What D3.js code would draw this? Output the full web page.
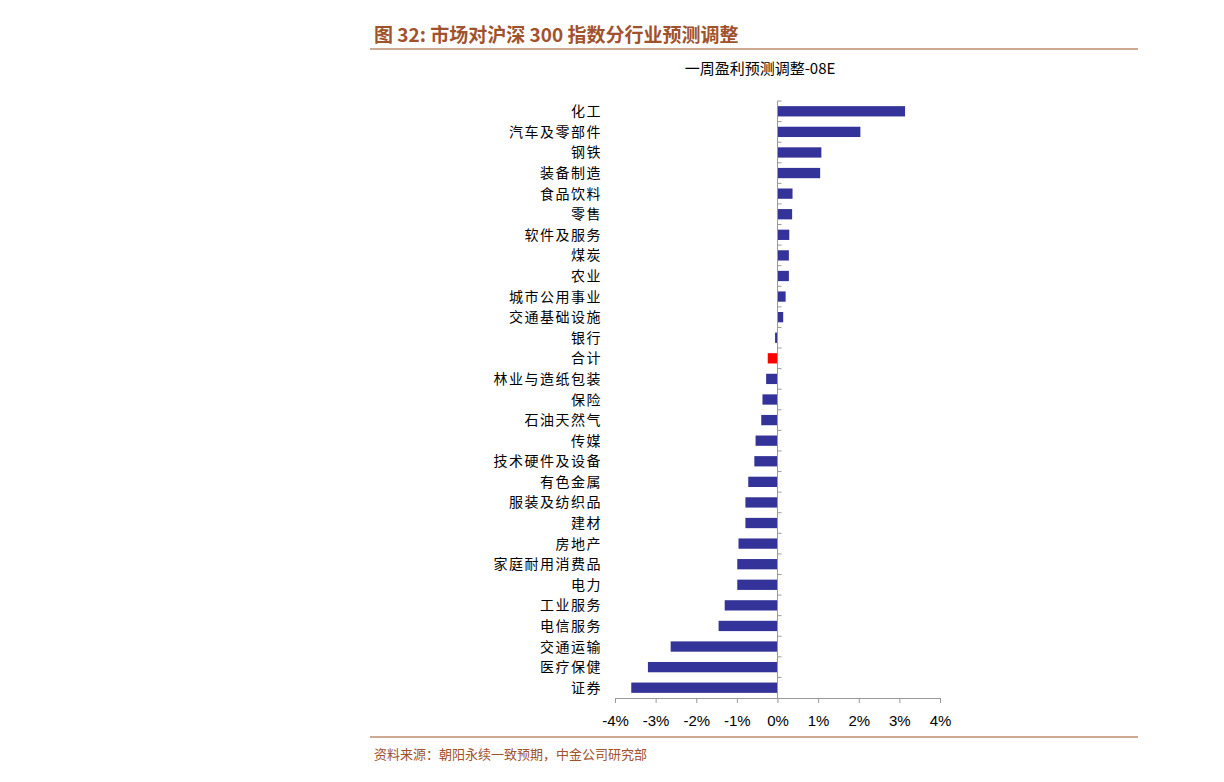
<!DOCTYPE html><html><head><meta charset="utf-8">
<script src="https://cdn.jsdelivr.net/npm/d3@7"></script>
<style>body{margin:0;background:#fff}</style></head><body>
<svg id="c" width="1224" height="782"></svg>
<script>
const categories=["化工","汽车及零部件","钢铁","装备制造","食品饮料","零售","软件及服务","煤炭","农业","城市公用事业","交通基础设施","银行","合计","林业与造纸包装","保险","石油天然气","传媒","技术硬件及设备","有色金属","服装及纺织品","建材","房地产","家庭耐用消费品","电力","工业服务","电信服务","交通运输","医疗保健","证券"];
const values=[3.14,2.04,1.08,1.05,0.37,0.36,0.29,0.28,0.28,0.2,0.14,-0.06,-0.24,-0.28,-0.37,-0.4,-0.54,-0.57,-0.72,-0.79,-0.79,-0.96,-0.99,-0.99,-1.3,-1.45,-2.63,-3.19,-3.6];
const ticks=[-4,-3,-2,-1,0,1,2,3,4];
const svg=d3.select("#c");
const brown="#a0522d";
svg.append("text").attr("x",374).attr("y",42).attr("fill",brown).attr("font-family","Noto Sans CJK SC").attr("font-weight","bold").attr("font-size",19).text("图 32:  市场对沪深 300 指数分行业预测调整");
svg.append("line").attr("x1",370).attr("x2",1138).attr("y1",49).attr("y2",49).attr("stroke",brown).attr("stroke-width",1.2);
svg.append("line").attr("x1",370).attr("x2",1138).attr("y1",737).attr("y2",737).attr("stroke",brown).attr("stroke-width",1.2);
svg.append("text").attr("x",374).attr("y",759).attr("fill",brown).attr("font-family","Noto Sans CJK SC").attr("font-size",13).text("资料来源：朝阳永续一致预期，中金公司研究部");
svg.append("text").attr("x",760).attr("y",74).attr("text-anchor","middle").attr("font-family","Noto Sans CJK SC").attr("font-size",15).text("一周盈利预测调整-08E");
const x=d3.scaleLinear().domain([-4,4]).range([615,940]);
const y=d3.scaleBand().domain(categories).range([101,698]).paddingInner(0.5).paddingOuter(0.25);
svg.selectAll("rect.b").data(categories).enter().append("rect")
 .attr("x",(d,i)=>x(Math.min(0,values[i]))).attr("width",(d,i)=>Math.abs(x(values[i])-x(0)))
 .attr("y",d=>y(d)).attr("height",y.bandwidth())
 .attr("fill",d=>d==="合计"?"#ff0000":"#333399");
const ax=svg.append("g").attr("transform","translate(0,698)").call(d3.axisBottom(x).tickValues(ticks).tickSize(5).tickPadding(12).tickFormat(d=>d+"%"));
ax.select(".domain").attr("stroke","#999");
ax.selectAll(".tick line").attr("stroke","#999");
ax.selectAll("text").attr("font-family","Liberation Sans").attr("font-size",15).attr("fill","#000");
const step=y.step();
const ay=svg.append("g").attr("transform","translate("+x(0)+",0)");
ay.append("line").attr("y1",101).attr("y2",698).attr("stroke","#999");
categories.forEach((c,i)=>{const yy=101+step*i; ay.append("line").attr("x1",0).attr("x2",4).attr("y1",yy).attr("y2",yy).attr("stroke","#999");});
svg.selectAll("text.l").data(categories).enter().append("text").attr("class","l")
 .attr("x",602).attr("y",d=>y(d)+y.bandwidth()/2+5).attr("text-anchor","end")
 .attr("font-family","Noto Sans CJK SC").attr("font-size",14).attr("letter-spacing",1.5).text(d=>d);
</script></body></html>
